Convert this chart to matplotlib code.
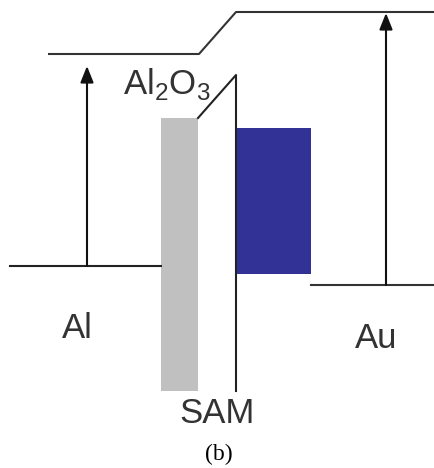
import matplotlib
matplotlib.use("Agg")
import matplotlib.pyplot as plt
from matplotlib.patches import Rectangle

# 能级示意图，坐标单位与参考图像素一致（y 向下）
vacuum_x = [48, 199, 236, 434]          # 真空能级折线
vacuum_y = [54, 54, 12, 12]

al_fermi_x = [10, 161]                  # Al 费米能级
al_fermi_y = 266
au_fermi_x = [311, 434]                 # Au 费米能级
au_fermi_y = 285

al_arrow = (87, 266, 66)                # x, 起点 y, 终点 y
au_arrow = (386, 285, 13)

oxide_box = (161, 118, 198, 391)        # Al2O3 灰色区域 x0, y0, x1, y1
sam_barrier_x = [198, 236, 236]         # SAM 势垒折线
sam_barrier_y = [118, 75, 391]
homo_box = (236, 128, 311, 274)         # SAM 蓝色能级

# 文字：内容, x 中心, 基线 y
labels = [("Al", 77, 338), ("Au", 376, 348), ("SAM", 217, 423)]
oxide_label = (r"Al$_\mathregular{2}$O$_\mathregular{3}$", 123, 94)
caption = ("(b)", 219, 454)

line_kw = dict(color="#333333", lw=1.5, solid_capstyle="butt")
text_kw = dict(fontsize=25, family="Liberation Sans", color="#333333")

fig = plt.figure(figsize=(4.34, 4.68), dpi=100)
ax = fig.add_axes([0, 0, 1, 1])
ax.set_xlim(0, 434)
ax.set_ylim(468, 0)
ax.axis("off")

ax.plot(vacuum_x, vacuum_y, **line_kw)
ax.plot(al_fermi_x, [al_fermi_y] * 2, color="#222222", lw=1.5)
ax.plot(au_fermi_x, [au_fermi_y] * 2, color="#333333", lw=1.5)

x0, y0, x1, y1 = oxide_box
ax.add_patch(Rectangle((x0, y0), x1 - x0, y1 - y0, color="#c0c0c0", lw=0))
x0, y0, x1, y1 = homo_box
ax.add_patch(Rectangle((x0, y0), x1 - x0, y1 - y0, color="#323296", lw=0))
ax.plot(sam_barrier_x, sam_barrier_y, color="#222222", lw=1.5)

for x, ys, ye in (al_arrow, au_arrow):
    ax.annotate("", xy=(x, ye), xytext=(x, ys),
                arrowprops=dict(arrowstyle="-|>,head_length=0.55,head_width=0.22",
                                color="#111111", lw=1.5, shrinkA=0, shrinkB=0,
                                mutation_scale=18))

for txt, x, y in labels:
    ax.text(x, y, txt, ha="center", va="baseline", **text_kw)
t, x, y = oxide_label
ax.text(x, y, t, ha="left", va="baseline", **text_kw)
t, x, y = caption
ax.text(x, y, t, ha="center", va="center", fontsize=17,
        family="Liberation Serif", color="black")

fig.savefig("out.png", dpi=100)
